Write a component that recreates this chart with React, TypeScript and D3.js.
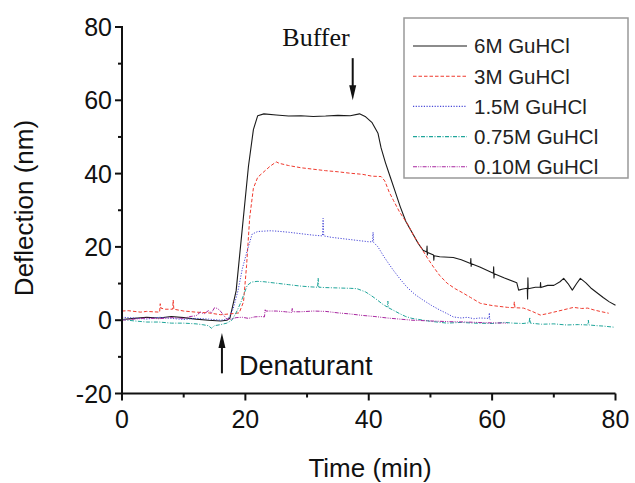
import React from "react";
import * as d3 from "d3";

type Pt = [number, number];

const xTicks = [0, 20, 40, 60, 80];
const yTicks = [-20, 0, 20, 40, 60, 80];
const xMinor = [10, 30, 50, 70];
const yMinor = [-10, 10, 30, 50, 70];

const seriesNames = ["6M GuHCl", "3M GuHCl", "1.5M GuHCl", "0.75M GuHCl", "0.10M GuHCl"];
const seriesColors = ["#1a1a1a", "#f03a2e", "#4a4ad8", "#1fa59a", "#a8259f"];
const seriesDash = ["", "3.5,2", "1.2,1.5", "4,1.5,1,1.5", "4,1.2,1,1.2,1,1.2"];

const s6M: Pt[] = [
  [0, 0.2], [2, 0.5], [4, 0.8], [6, 0.6], [8, 1.0], [10, 0.7], [12, 0.3], [14, 0.0], [16, -0.2], [17, 0],
  [17.5, 0.6], [18.5, 8], [19.5, 25], [20.5, 42], [21.3, 52], [22, 55.8], [23, 56.3], [25, 56], [27, 55.7],
  [29, 55.8], [31, 55.6], [33, 55.7], [35, 55.9], [37, 55.8], [38.5, 56.3], [39.5, 55.5], [40.5, 54],
  [41.5, 51], [42, 47], [42.7, 43], [43.5, 39], [44.3, 35], [45.1, 31], [46, 27], [47, 24], [48, 21],
  [48.8, 19.1], [49.4, 18.6], [49.45, 20.2], [49.5, 17.8], [49.55, 18.5], [50.5, 17.8], [50.55, 16.4], [50.6, 17.6],
  [51.5, 17.3], [53.7, 17.1], [55, 16.5], [56.5, 15.5], [56.55, 16.8], [56.6, 14.7], [56.65, 15.4], [58, 14.5],
  [60.2, 12.8], [60.25, 14.6], [60.3, 11.5], [60.35, 12.7], [62, 11.5], [64, 10.2], [64.3, 8.2], [65, 8.5],
  [65.7, 8.7], [65.75, 5.8], [65.8, 11.6], [65.85, 8.6], [67, 9.0], [67.8, 9.0], [67.85, 10.3], [67.9, 8.9],
  [69, 9.5], [70, 9.5], [71, 10.5], [71.6, 11.4], [72.3, 10], [73, 8.2], [73.7, 10], [74.3, 11.4], [75.2, 10.2],
  [76, 8.8], [77, 7.5], [78, 6.2], [79, 5], [80, 4.1],
];

const s3M: Pt[] = [
  [0, 2.5], [1, 2.6], [3, 2.2], [4, 2.4], [5, 2.3], [6.1, 2.2], [6.2, 4.5], [6.3, 3.3], [7, 3.0], [8.2, 3.0],
  [8.3, 5.5], [8.4, 3], [10, 2.5], [12, 2.2], [14, 2.0], [16, 1.5], [18, 1.8], [19, 2], [19.7, 5], [20.2, 15],
  [20.7, 28], [21.3, 36], [22, 39], [23, 40.5], [24, 42], [25, 43.2], [25.5, 42.8], [27, 42.2], [29, 41.6],
  [31, 41.2], [33, 40.8], [35, 40.5], [37, 40.1], [39, 39.8], [40.5, 39.3], [42, 39.2], [42.6, 38], [43.3, 35],
  [44, 32.7], [45, 29.5], [46.2, 26.5], [47.3, 23], [48.4, 20], [49.5, 17], [50.5, 14.5], [51.5, 12.2],
  [52.7, 10.1], [54, 8.6], [55.3, 7.4], [56.5, 6.2], [58.1, 4.6], [60, 4], [62.5, 3.5], [63.5, 3.4], [63.6, 5],
  [63.7, 3.4], [65.1, 3.3], [66.5, 2.4], [67.8, 1.4], [69, 1.8], [70, 2.2], [71.5, 2.8], [73.2, 3.5],
  [74.5, 3.2], [75.5, 3.3], [76.5, 2.8], [77.5, 2.4], [78.9, 1.9],
];

const s15M: Pt[] = [
  [0, 0.8], [2, 0.6], [4, 0.3], [6, 0.8], [8, 0.5], [10, 0.2], [12, 0.5], [14, 0.3], [16, 0], [17.2, 0.3],
  [18, 3], [18.8, 8], [19.5, 14], [20.3, 19], [21.1, 23.5], [22, 24.2], [24, 24.4], [25.1, 24.3], [27, 24],
  [29, 23.6], [31, 23.2], [32.5, 23], [32.6, 27.8], [32.7, 23], [34, 22.6], [36, 22.2], [38, 21.8], [40, 21.4],
  [40.6, 21.4], [40.7, 24], [40.8, 21.2], [41.5, 20], [42.4, 17.5], [43.2, 15.5], [44, 13.6], [45, 11.4],
  [46.2, 9], [47.5, 7], [48.8, 5.5], [50.2, 4], [51.6, 2.7], [52.7, 1.8], [53.7, 0.9], [55, 0.6], [56, 0.8],
  [57, 0.4], [58, 0.6], [59.5, 0.5], [59.55, 2], [59.6, 0.3], [59.7, 0.2],
];

const s075M: Pt[] = [
  [0, 0.2], [2, -0.2], [4, -0.5], [6, -0.5], [8, -0.8], [10, -0.8], [12, -1.0], [13, -1.2], [14, -1.5],
  [14.5, -2.2], [15, -1.5], [16, -1.2], [17, -0.8], [17.8, 0], [18.5, 2], [19.3, 5], [20.3, 9.5], [21, 10.4],
  [21.9, 10.6], [23, 10.5], [25, 10.1], [27, 9.7], [29, 9.3], [30.5, 9.1], [31.7, 9.0], [31.8, 11.5],
  [31.9, 9.0], [33, 8.9], [35, 8.8], [37, 8.7], [38.1, 8.6], [39.5, 7.7], [40.5, 6.6], [41.4, 5.5], [42.3, 4.3],
  [43, 3.6], [43.1, 5.2], [43.2, 3.4], [44, 2.7], [45, 1.8], [46, 1.0], [47, 0.5], [48.5, 0.1], [50, -0.3],
  [52.7, -0.8], [55, -0.6], [57, -0.8], [60, -0.9], [62, -0.6], [63.4, -0.8], [65, -0.9], [66, -0.7],
  [66.1, 0.8], [66.2, -0.8], [68, -1.1], [70, -1.0], [72, -1.3], [74, -1.2], [75.5, -1.3], [75.6, 0],
  [75.7, -1.3], [77, -1.5], [78, -1.6], [79.7, -1.9],
];

const s010M: Pt[] = [
  [0, 0], [2, 0.3], [4, 0.6], [6, 0.4], [8, 0.7], [10, 0.5], [11, 1.0], [12, 1.2], [12.7, 2.2], [13.3, 1.7],
  [14, 2.6], [14.5, 2.0], [15, 3.4], [15.5, 3.2], [16, 2.4], [16.4, 1.5], [17, 0.3], [17.5, 0.2], [18.5, 0.7],
  [19.5, 0.8], [20.5, 0.5], [21.5, 0.9], [22.5, 1.0], [23.1, 0.9], [23.2, 3.0], [23.3, 2.5], [25, 2.5],
  [26.5, 2.3], [27.5, 2.1], [27.6, 3.2], [27.7, 2.3], [29, 2.3], [31, 2.5], [33, 2.4], [35, 2.0], [37, 1.7],
  [39, 1.3], [41, 1.0], [43, 0.6], [45, 0.3], [47, 0], [50, -0.2], [53, -0.4], [56, -0.5], [59, -0.7],
  [62.5, -0.8],
];

const allSeries = [s6M, s3M, s15M, s075M, s010M];

const bufferArrow = { x: 37.4, yTop: 71.5, yBottom: 60 };
const denatArrow = { x: 16.2, yTop: -3.5, yBottom: -14.5 };

const W = 635;
const H = 483;
const X0 = 122, X1 = 615.5;
const Y0 = 393.5, Y1 = 27;

export default function App() {
  const x = d3.scaleLinear().domain([0, 80]).range([X0, X1]);
  const y = d3.scaleLinear().domain([-20, 80]).range([Y0, Y1]);
  const line = d3.line<Pt>().x((d) => x(d[0])).y((d) => y(d[1]));
  const sans = "'Liberation Sans', Arial, Helvetica, sans-serif";

  const legX = 404, legY = 18, legW = 224, legH = 160;
  const rowY = (i: number) => 46 + i * 30.2;

  return (
    <svg width={W} height={H} style={{ position: "absolute", left: 0, top: 0, background: "#fff" }}>
      <rect width={W} height={H} fill="#fff" />
      {allSeries.map((s, i) => (
        <path key={i} d={line(s) || ""} fill="none" stroke={seriesColors[i]}
          strokeWidth={i === 0 ? 1.1 : 1.0} strokeDasharray={seriesDash[i] || undefined} strokeLinejoin="round" />
      ))}
      <line x1={X0} x2={X0} y1={Y1 - 1} y2={Y0} stroke="#111" strokeWidth={2} />
      <line x1={X0} x2={X1} y1={Y0} y2={Y0} stroke="#111" strokeWidth={2} />
      {yTicks.map((t) => (
        <g key={"y" + t}>
          <line x1={X0 - 7} x2={X0} y1={y(t)} y2={y(t)} stroke="#111" strokeWidth={2} />
          <text x={X0 - 10} y={y(t)} dy="0.36em" textAnchor="end" fontFamily={sans} fontSize={25} fill="#111">{t}</text>
        </g>
      ))}
      {yMinor.map((t) => (
        <line key={"ym" + t} x1={X0 - 4} x2={X0} y1={y(t)} y2={y(t)} stroke="#111" strokeWidth={2} />
      ))}
      {xTicks.map((t) => (
        <g key={"x" + t}>
          <line x1={x(t)} x2={x(t)} y1={Y0} y2={Y0 + 7} stroke="#111" strokeWidth={2} />
          <text x={x(t)} y={Y0 + 34} textAnchor="middle" fontFamily={sans} fontSize={25} fill="#111">{t}</text>
        </g>
      ))}
      {xMinor.map((t) => (
        <line key={"xm" + t} x1={x(t)} x2={x(t)} y1={Y0} y2={Y0 + 4} stroke="#111" strokeWidth={2} />
      ))}
      <text x={370} y={477} textAnchor="middle" fontFamily={sans} fontSize={26} fill="#111">Time (min)</text>
      <text transform="translate(33,208) rotate(-90)" textAnchor="middle" fontFamily={sans} fontSize={26} fill="#111">Deflection (nm)</text>

      <text x={316} y={46} textAnchor="middle" fontFamily="'Liberation Serif', 'Times New Roman', serif" fontSize={26} fill="#111">Buffer</text>
      <line x1={x(bufferArrow.x)} x2={x(bufferArrow.x)} y1={y(bufferArrow.yTop)} y2={y(bufferArrow.yBottom) - 12} stroke="#111" strokeWidth={2} />
      <path d={`M${x(bufferArrow.x) - 3.5},${y(bufferArrow.yBottom) - 15} L${x(bufferArrow.x) + 3.5},${y(bufferArrow.yBottom) - 15} L${x(bufferArrow.x)},${y(bufferArrow.yBottom)} Z`} fill="#111" />
      <line x1={x(denatArrow.x)} x2={x(denatArrow.x)} y1={y(denatArrow.yBottom)} y2={y(denatArrow.yTop) + 12} stroke="#111" strokeWidth={2} />
      <path d={`M${x(denatArrow.x) - 3.5},${y(denatArrow.yTop) + 15} L${x(denatArrow.x) + 3.5},${y(denatArrow.yTop) + 15} L${x(denatArrow.x)},${y(denatArrow.yTop)} Z`} fill="#111" />
      <text x={239} y={375} fontFamily={sans} fontSize={27} fill="#111">Denaturant</text>

      <rect x={legX} y={legY} width={legW} height={legH} fill="#fff" stroke="#999" strokeWidth={1.5} />
      {seriesNames.map((n, i) => (
        <g key={n}>
          <line x1={413} x2={467} y1={rowY(i)} y2={rowY(i)} stroke={seriesColors[i]} strokeWidth={1.1}
            strokeDasharray={seriesDash[i] || undefined} />
          <text x={474} y={rowY(i)} dy="0.36em" fontFamily={sans} fontSize={20.5} fill="#222">{n}</text>
        </g>
      ))}
    </svg>
  );
}
